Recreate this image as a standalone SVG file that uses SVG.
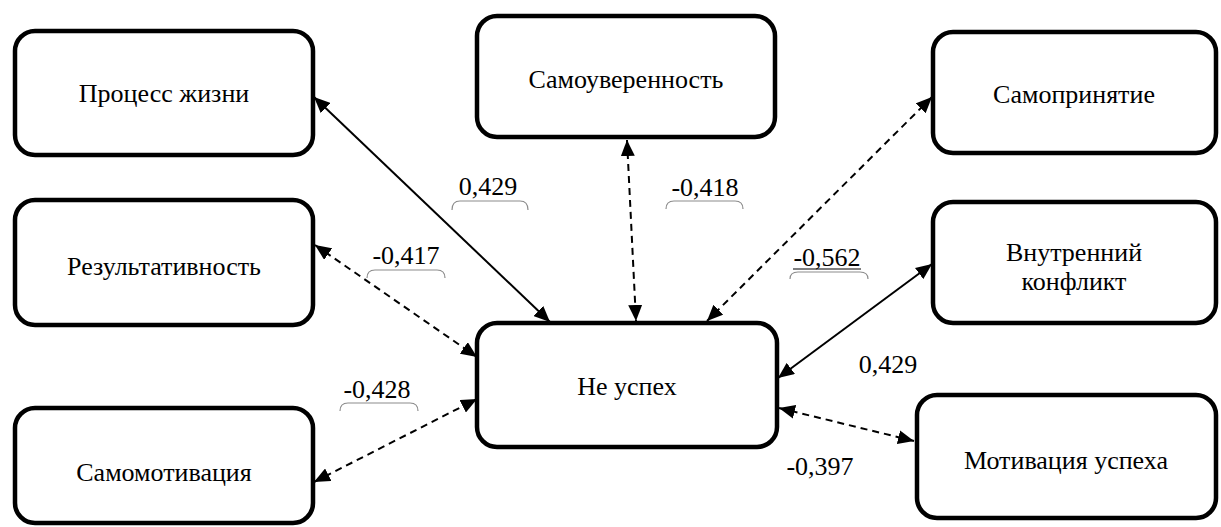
<svg xmlns="http://www.w3.org/2000/svg" width="1221" height="527" viewBox="0 0 1221 527">
<style>
.box{fill:#fff;stroke:#000;stroke-width:4.5}
.t{font-family:"Liberation Serif","Times New Roman",serif;font-size:26px;fill:#000;text-anchor:middle}
.c{stroke:#000;stroke-width:2;fill:none}
.d{stroke-dasharray:7,5}
.br{fill:none;stroke:#8c8c8c;stroke-width:1.2}
</style>
<defs>
<marker id="ah" markerUnits="userSpaceOnUse" markerWidth="16" markerHeight="14" viewBox="0 0 16 14" refX="16" refY="7" orient="auto-start-reverse">
<path d="M0,0 L16,7 L0,14 z" fill="#000"/>
</marker>
</defs>
<g id="connectors">
<line class="c" x1="314" y1="97" x2="550" y2="322" marker-start="url(#ah)" marker-end="url(#ah)"/>
<line class="c d" x1="627" y1="140" x2="636" y2="321" marker-start="url(#ah)" marker-end="url(#ah)"/>
<line class="c d" x1="932" y1="97" x2="707" y2="321" marker-start="url(#ah)" marker-end="url(#ah)"/>
<line class="c d" x1="315" y1="245" x2="477" y2="357" marker-start="url(#ah)" marker-end="url(#ah)"/>
<line class="c d" x1="314" y1="482" x2="477" y2="399" marker-start="url(#ah)" marker-end="url(#ah)"/>
<line class="c" x1="932" y1="264" x2="778" y2="378" marker-start="url(#ah)" marker-end="url(#ah)"/>
<line class="c d" x1="779" y1="408" x2="914" y2="441" marker-start="url(#ah)" marker-end="url(#ah)"/>
</g>
<g id="labels">
<text class="t" x="488" y="195">0,429</text>
<path class="br" d="M452,210 Q452,201 460,201 L520,201 Q528,201 528,210"/>
<text class="t" x="705" y="196">-0,418</text>
<path class="br" d="M666,209 Q666,201 674,201 L735,201 Q743,201 743,209"/>
<text class="t" x="406" y="264">-0,417</text>
<path class="br" d="M367,278 Q367,270 375,270 L437,270 Q445,270 445,278"/>
<text class="t" x="377" y="398">-0,428</text>
<path class="br" d="M340,411 Q340,403 348,403 L410,403 Q418,403 418,411"/>
<text class="t" x="827" y="266">-0,562</text>
<line x1="793" y1="269" x2="861" y2="269" stroke="#000" stroke-width="1.2"/>
<path class="br" d="M790,279 Q790,272 798,272 L860,272 Q868,272 868,279"/>
<text class="t" x="888" y="373">0,429</text>
<text class="t" x="820" y="475">-0,397</text>
</g>
<g id="n-process">
<rect class="box" x="15" y="31" width="298" height="124" rx="20"/>
<text class="t" x="164" y="102">Процесс жизни</text>
</g>
<g id="n-selfconf">
<rect class="box" x="477" y="16" width="298" height="121" rx="20"/>
<text class="t" x="626" y="88">Самоуверенность</text>
</g>
<g id="n-selfacc">
<rect class="box" x="933" y="32" width="283" height="121" rx="20"/>
<text class="t" x="1074" y="103">Самопринятие</text>
</g>
<g id="n-result">
<rect class="box" x="15" y="200" width="298" height="125" rx="20"/>
<text class="t" x="164" y="275">Результативность</text>
</g>
<g id="n-conflict">
<rect class="box" x="933" y="202" width="283" height="121" rx="20"/>
<text class="t" x="1074" y="261">Внутренний</text>
<text class="t" x="1074" y="290">конфликт</text>
</g>
<g id="n-fail">
<rect class="box" x="477" y="323" width="300" height="124" rx="20"/>
<text class="t" x="627" y="395">Не успех</text>
</g>
<g id="n-selfmot">
<rect class="box" x="15" y="408" width="298" height="115" rx="20"/>
<text class="t" x="164" y="481">Самомотивация</text>
</g>
<g id="n-motsucc">
<rect class="box" x="917" y="395" width="299" height="123" rx="20"/>
<text class="t" x="1066" y="469">Мотивация успеха</text>
</g>
</svg>
